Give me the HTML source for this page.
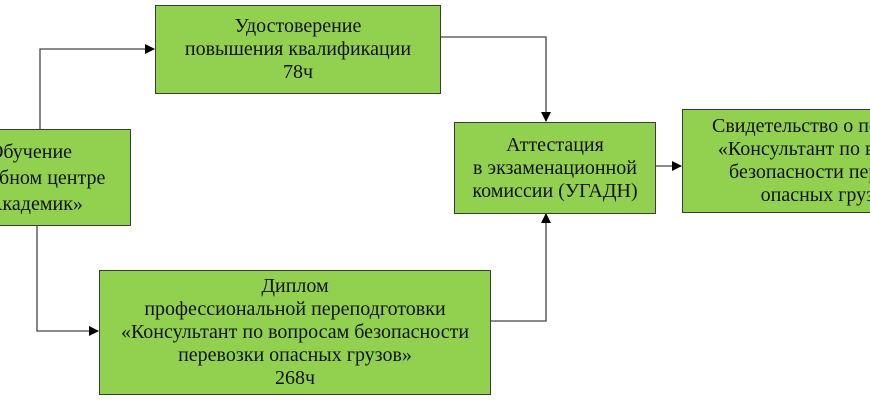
<!DOCTYPE html>
<html><head><meta charset="utf-8"><style>
body{margin:0;width:870px;height:400px;overflow:hidden;background:#fff;position:relative;font-family:"Liberation Serif","Times New Roman",Times,"DejaVu Serif",serif;}
.b{position:absolute;background:#92d050;border:1.5px solid #3a3a3a;box-sizing:border-box;display:flex;flex-direction:column;justify-content:center;align-items:center;text-align:center;font-size:20px;line-height:23px;color:#111;white-space:nowrap;overflow:hidden;}
svg{position:absolute;left:0;top:0}
</style></head><body>
<svg width="870" height="400">
<defs><marker id="a" markerWidth="10" markerHeight="10" refX="9" refY="5" orient="auto" markerUnits="userSpaceOnUse"><path d="M0,0 L10,5 L0,10 z" fill="#000"/></marker></defs>
<g stroke="#444" stroke-width="1.3" fill="none">
<polyline points="40,129 40,49 154,49" marker-end="url(#a)"/>
<polyline points="440,37 546,37 546,121" marker-end="url(#a)"/>
<polyline points="37,226 37,331 98,331" marker-end="url(#a)"/>
<polyline points="490,321 546,321 546,214" marker-end="url(#a)"/>
<polyline points="655,166 681,166" marker-end="url(#a)"/>
</g>
</svg>
<div class="b" style="left:155px;top:5px;width:286px;height:89px"><div>Удостоверение</div><div>повышения квалификации</div><div>78ч</div></div>
<div class="b" style="left:-70px;top:129px;width:201px;height:97px;line-height:26px"><div>Обучение</div><div>в учебном центре</div><div>«Академик»</div></div>
<div class="b" style="left:454px;top:122px;width:202px;height:92px"><div>Аттестация</div><div>в экзаменационной</div><div>комиссии (УГАДН)</div></div>
<div class="b" style="left:682px;top:109px;width:300px;height:104px"><div>Свидетельство о подготовке</div><div>«Консультант по вопросам</div><div>безопасности перевозки</div><div>опасных грузов»</div></div>
<div class="b" style="left:99px;top:270px;width:392px;height:125px"><div>Диплом</div><div>профессиональной переподготовки</div><div>«Консультант по вопросам безопасности</div><div>перевозки опасных грузов»</div><div>268ч</div></div>
</body></html>
